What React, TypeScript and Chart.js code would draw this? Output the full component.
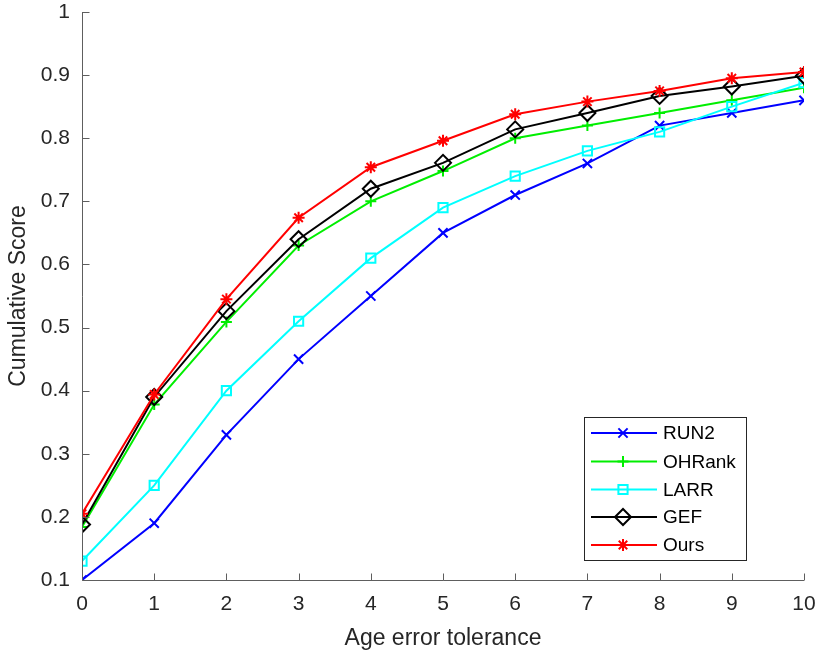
import React, { useEffect, useRef } from 'react';
import { Chart, registerables } from 'chart.js';
import { drawPoint } from 'chart.js/helpers';

Chart.register(...registerables);

const tolerance = [0, 1, 2, 3, 4, 5, 6, 7, 8, 9, 10];
const run2 = [0.10, 0.19, 0.33, 0.45, 0.55, 0.65, 0.71, 0.76, 0.82, 0.84, 0.86];
const ohrank = [0.184, 0.378, 0.509, 0.63, 0.70, 0.748, 0.80, 0.82, 0.84, 0.86, 0.88];
const larr = [0.13, 0.25, 0.40, 0.51, 0.61, 0.69, 0.74, 0.78, 0.81, 0.85, 0.888];
const gef = [0.188, 0.39, 0.526, 0.64, 0.72, 0.761, 0.814, 0.84, 0.867, 0.882, 0.899];
const ours = [0.205, 0.394, 0.545, 0.674, 0.754, 0.796, 0.838, 0.858, 0.875, 0.895, 0.905];
const seriesNames = ['RUN2', 'OHRank', 'LARR', 'GEF', 'Ours'];
const xTitle = 'Age error tolerance';
const yTitle = 'Cumulative Score';

const FONT = '"Liberation Sans", Arial, Helvetica, sans-serif';
const TEXT = '#262626';
const AXIS = '#5e5e5e';

const styles = [
  { color: '#0000ff', pointStyle: 'crossRot', radius: 6.5 },
  { color: '#00ee00', pointStyle: 'cross', radius: 5.5 },
  { color: '#00ffff', pointStyle: 'rect', radius: 6.5 },
  { color: '#000000', pointStyle: 'rectRot', radius: 8 },
  { color: '#ff0000', pointStyle: 'star', radius: 6 },
];

const zeroPad = (s: any) => {
  s.paddingTop = 0;
  s.paddingBottom = 0;
  s.paddingLeft = 0;
  s.paddingRight = 0;
};

const matlabPlugin = {
  id: 'matlabDecor',
  afterDraw(chart: any) {
    const ctx = chart.ctx as CanvasRenderingContext2D;
    const xs = chart.scales.x;
    const ys = chart.scales.y;
    const area = chart.chartArea;
    ctx.save();
    ctx.strokeStyle = AXIS;
    ctx.lineWidth = 1;
    ctx.beginPath();
    const lx = Math.round(area.left) + 0.5;
    const by = Math.round(area.bottom) + 0.5;
    ctx.moveTo(lx, area.top);
    ctx.lineTo(lx, by);
    ctx.lineTo(area.right, by);
    ctx.stroke();
    ctx.beginPath();
    for (const t of ys.ticks) {
      const py = Math.round(ys.getPixelForValue(t.value)) + 0.5;
      ctx.moveTo(lx, py);
      ctx.lineTo(lx + 7, py);
    }
    for (const t of xs.ticks) {
      const px = Math.round(xs.getPixelForValue(t.value)) + 0.5;
      ctx.moveTo(px, by);
      ctx.lineTo(px, by - 7);
    }
    ctx.stroke();

    ctx.fillStyle = TEXT;
    ctx.font = `23px ${FONT}`;
    ctx.textAlign = 'center';
    ctx.textBaseline = 'alphabetic';
    ctx.fillText(xTitle, (area.left + area.right) / 2, 645);
    ctx.save();
    ctx.translate(25, (area.top + area.bottom) / 2);
    ctx.rotate(-Math.PI / 2);
    ctx.fillText(yTitle, 0, 0);
    ctx.restore();

    const bx = 584.5, byTop = 417.5, bw = 162, bh = 143;
    ctx.fillStyle = '#ffffff';
    ctx.fillRect(bx, byTop, bw, bh);
    ctx.strokeStyle = '#262626';
    ctx.lineWidth = 1;
    ctx.strokeRect(bx, byTop, bw, bh);
    const rowY = [433, 461.5, 489.5, 517, 545];
    ctx.font = `19px ${FONT}`;
    ctx.textAlign = 'left';
    ctx.textBaseline = 'middle';
    chart.data.datasets.forEach((ds: any, i: number) => {
      const y = rowY[i];
      ctx.strokeStyle = ds.borderColor;
      ctx.lineWidth = 2;
      ctx.beginPath();
      ctx.moveTo(591, y);
      ctx.lineTo(657, y);
      ctx.stroke();
      ctx.fillStyle = 'rgba(0,0,0,0)';
      ctx.strokeStyle = ds.pointBorderColor;
      ctx.lineWidth = 2;
      drawPoint(ctx, { pointStyle: ds.pointStyle, radius: ds.pointRadius, borderWidth: 2, rotation: 0 } as any, 623, y);
      ctx.fillStyle = '#000000';
      ctx.fillText(ds.label, 663, y + 1);
    });
    ctx.restore();
  },
};

export default function App() {
  const ref = useRef<HTMLCanvasElement | null>(null);
  useEffect(() => {
    const canvas = ref.current;
    if (!canvas) return;
    const all = [run2, ohrank, larr, gef, ours];
    const chart = new Chart(canvas, {
      type: 'line',
      data: {
        datasets: all.map((vals, i) => ({
          label: seriesNames[i],
          data: tolerance.map((t, j) => ({ x: t, y: vals[j] })),
          borderColor: styles[i].color,
          backgroundColor: 'rgba(0,0,0,0)',
          pointBorderColor: styles[i].color,
          pointBackgroundColor: 'rgba(0,0,0,0)',
          pointStyle: styles[i].pointStyle as any,
          pointRadius: styles[i].radius,
          pointBorderWidth: 2,
          borderWidth: 2,
          tension: 0,
          fill: false,
          order: 5 - i,
        })),
      },
      options: {
        animation: false,
        responsive: false,
        devicePixelRatio: 1,
        layout: { padding: { top: 12, right: 11, left: 0, bottom: 0 } },
        plugins: { legend: { display: false }, tooltip: { enabled: false } },
        scales: {
          x: {
            type: 'linear',
            min: 0,
            max: 10,
            grid: { display: false, drawTicks: false },
            border: { display: false },
            ticks: {
              stepSize: 1,
              padding: 12,
              color: TEXT,
              font: { family: FONT, size: 21 },
              maxRotation: 0,
            },
            afterFit: (s: any) => { s.height = 72; zeroPad(s); },
          },
          y: {
            type: 'linear',
            min: 0.1,
            max: 1,
            grid: { display: false, drawTicks: false },
            border: { display: false },
            ticks: {
              stepSize: 0.1,
              padding: 12,
              color: TEXT,
              font: { family: FONT, size: 21 },
              callback: (v: any) => Number(v).toFixed(1).replace(/\.0$/, ''),
            },
            afterFit: (s: any) => { s.width = 82; zeroPad(s); },
          },
        },
      },
      plugins: [matlabPlugin],
    });
    return () => chart.destroy();
  }, []);
  return (
    <div style={{ position: 'absolute', left: 0, top: 0, width: 815, height: 652, background: '#fff' }}>
      <canvas ref={ref} width={815} height={652} style={{ display: 'block' }} />
    </div>
  );
}
